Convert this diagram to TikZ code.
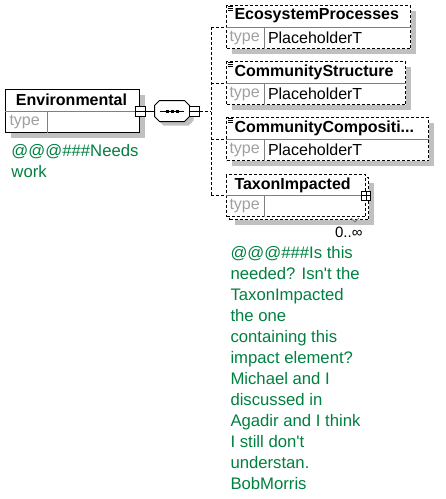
\documentclass[tikz,border=0pt]{standalone}
\usepackage{fontspec}
\setmainfont{Liberation Sans}
\usetikzlibrary{shadows}
\definecolor{shadowgray}{RGB}{192,192,192}
\definecolor{divgray}{RGB}{128,128,128}
\definecolor{typegray}{RGB}{160,160,160}
\definecolor{notegreen}{RGB}{0,128,64}

\begin{document}
\begin{tikzpicture}[x=1pt, y=-1pt, line width=1pt,
	boxshadow/.style={drop shadow={shadow xshift=5pt, shadow yshift=-5pt, fill=shadowgray, opacity=1}},
	elem/.style={draw, fill=white, anchor=north west, minimum height=43pt, inner sep=0pt, boxshadow},
	optelem/.style={elem, dash pattern=on 3pt off 2pt},
	branch/.style={dash pattern=on 3pt off 2pt},
	headtext/.style={font=\fontsize{16}{18}\selectfont\bfseries, inner sep=0pt, anchor=west},
	typetext/.style={font=\fontsize{16}{18}\selectfont, text=typegray, inner sep=0pt, anchor=west},
	valtext/.style={font=\fontsize{16}{18}\selectfont, inner sep=0pt, anchor=west},
	note/.style={font=\fontsize{16.7}{21}\selectfont, text=notegreen, align=left, inner sep=0pt, anchor=north west},
	btn/.style={draw, fill=white, minimum size=10pt, inner sep=0pt}]
			\useasboundingbox (0,0) rectangle (446,499);
			% root element
			\node[elem, minimum width=134pt] (env) at (5,89) {};
			\draw[divgray] (env.west) -- (env.east);
			\draw[divgray] ([xshift=42pt]env.west) -- ([xshift=42pt]env.south west);
			\node[headtext, anchor=center] (envname) at (71.5,100) {Environmental};
			\node[typetext] (envtype) at (9,121.5) {type};
			\node[note] (envnote) at (11,143.5) {@@@\#\#\#Needs\\work};
			% sequence compositor
			\node[minimum width=34pt, minimum height=20pt, inner sep=0pt] (seq) at (172,111) {};
			\draw[fill=white, drop shadow={shadow xshift=4pt, shadow yshift=-4pt, fill=shadowgray, opacity=1}]
				([xshift=5pt]seq.north west) -- ([xshift=-5pt]seq.north east) -- ([yshift=-5pt]seq.north east)
				-- ([yshift=5pt]seq.south east) -- ([xshift=-5pt]seq.south east) -- ([xshift=5pt]seq.south west)
				-- ([yshift=5pt]seq.south west) -- ([yshift=-5pt]seq.north west) -- cycle;
			\draw ([xshift=-12pt]seq.center) -- ([xshift=12pt]seq.center);
			\fill ([xshift=-5pt]seq.center) +(-1.5,-1.5) rectangle +(1.5,1.5);
			\fill (seq.center) +(-1.5,-1.5) rectangle +(1.5,1.5);
			\fill ([xshift=5pt]seq.center) +(-1.5,-1.5) rectangle +(1.5,1.5);
			\node[btn] (envbtn) at (env.east) {};
			\draw (envbtn.west) -- (envbtn.east);
			\node[btn] (seqbtn) at (194,111) {};
			\draw (seqbtn.west) -- (seqbtn.east);
			\draw (envbtn) -- (seq);
			% child elements
			\node[optelem, minimum width=184pt] (ecoproc) at (226,5) {};
			\draw[divgray] (ecoproc.west) -- (ecoproc.east);
			\draw[divgray] ([xshift=38pt]ecoproc.west) -- ([xshift=38pt]ecoproc.south west);
			\draw[line width=.6pt] (228,6.5) -- ++(5,0) (228,8.3) -- ++(5,0) (228,10.1) -- ++(5,0);
			\node[headtext] (ecoprocname) at (234,16) {EcosystemProcesses};
			\node[typetext] (ecoproctype) at (229,37.5) {type};
			\node[valtext] (ecoprocval) at (267.5,37.5) {PlaceholderT};
			\node[optelem, minimum width=179pt] (commstruct) at (226,61) {};
			\draw[divgray] (commstruct.west) -- (commstruct.east);
			\draw[divgray] ([xshift=38pt]commstruct.west) -- ([xshift=38pt]commstruct.south west);
			\draw[line width=.6pt] (228,62.5) -- ++(5,0) (228,64.3) -- ++(5,0) (228,66.1) -- ++(5,0);
			\node[headtext] (commstructname) at (234,72) {CommunityStructure};
			\node[typetext] (commstructtype) at (229,93.5) {type};
			\node[valtext] (commstructval) at (267.5,93.5) {PlaceholderT};
			\node[optelem, minimum width=202pt] (commcomp) at (226,117) {};
			\draw[divgray] (commcomp.west) -- (commcomp.east);
			\draw[divgray] ([xshift=38pt]commcomp.west) -- ([xshift=38pt]commcomp.south west);
			\draw[line width=.6pt] (228,118.5) -- ++(5,0) (228,120.3) -- ++(5,0) (228,122.1) -- ++(5,0);
			\node[headtext] (commcompname) at (234,128) {CommunityCompositi...};
			\node[typetext] (commcomptype) at (229,149.5) {type};
			\node[valtext] (commcompval) at (267.5,149.5) {PlaceholderT};
			\node[draw, fill=white, dash pattern=on 3pt off 2pt, anchor=north west, minimum width=139pt, minimum height=42pt, inner sep=0pt,
				drop shadow={shadow xshift=8pt, shadow yshift=-8pt, fill=shadowgray, opacity=1},
				general shadow={shadow xshift=3pt, shadow yshift=-3pt, draw, fill=white, dash pattern=on 3pt off 2pt}] (taxon) at (226,174) {};
			\draw[divgray] (taxon.west) -- (taxon.east);
			\draw[divgray] ([xshift=38pt]taxon.west) -- ([xshift=38pt]taxon.south west);
			\node[headtext] (taxonname) at (234,185) {TaxonImpacted};
			\node[typetext] (taxontype) at (229,206) {type};
			\node[btn, minimum size=9pt] (taxonbtn) at (taxon.east) {};
			\draw (taxonbtn.north) -- (taxonbtn.south) (taxonbtn.west) -- (taxonbtn.east);
			\draw[divgray] (351,218) -- (355,222) -- (359,218);
			\node[font=\fontsize{15}{18}\selectfont, anchor=east, inner sep=0pt] (taxonocc) at (363,232) {0..∞};
			\node[note] (taxonnote) at (230,246) {@@@\#\#\#Is this\\needed? Isn\textquotesingle t the\\TaxonImpacted\\the one\\containing this\\impact element?\\Michael and I\\discussed in\\Agadir and I think\\I still don\textquotesingle t\\understan.\\BobMorris};
			% connectors
			\coordinate (spine) at (211,111);
			\draw[branch] (seqbtn) -- (spine);
			\draw[branch] (ecoproc.west -| spine) -- (taxon.west -| spine);
			\draw[branch] (ecoproc.west -| spine) -- (ecoproc.west);
			\draw[branch] (commstruct.west -| spine) -- (commstruct.west);
			\draw[branch] (commcomp.west -| spine) -- (commcomp.west);
			\draw[branch] (taxon.west -| spine) -- (taxon.west);
\end{tikzpicture}
\end{document}
